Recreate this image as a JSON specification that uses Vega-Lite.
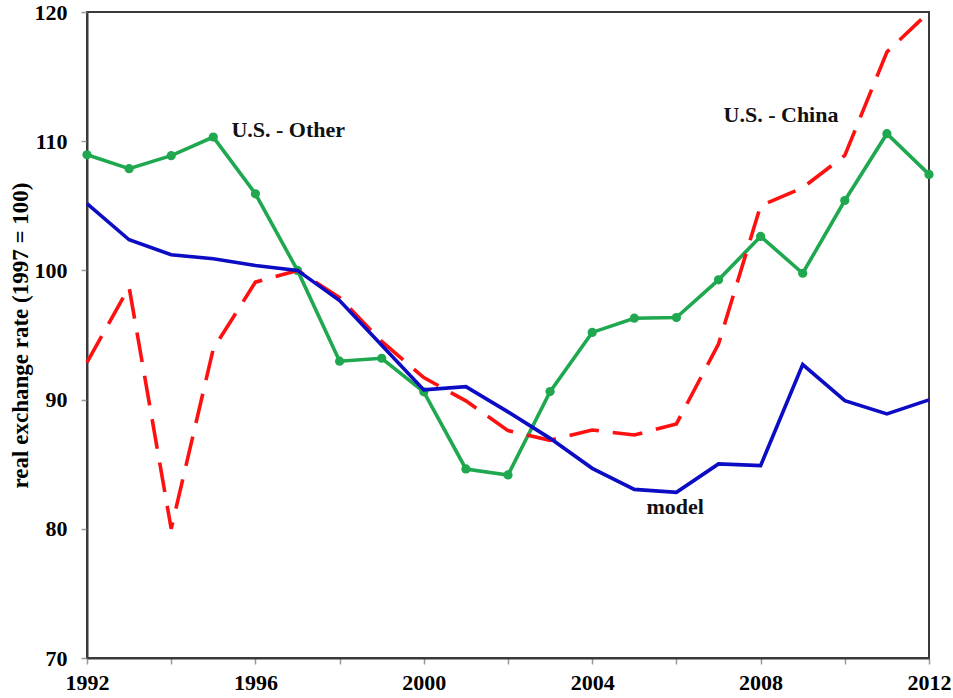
{
  "$schema": "https://vega.github.io/schema/vega-lite/v6.json",
  "width": 842,
  "height": 646,
  "autosize": "none",
  "padding": {"left": 87, "top": 12, "right": 24, "bottom": 40},
  "background": "white",
  "config": {
    "view": {"stroke": "#3a3a3a", "strokeWidth": 2},
    "font": "Liberation Serif"
  },
  "datasets": {
    "series": [
      {"year": 1992, "value": 108.95, "series": "U.S. - Other"},
      {"year": 1993, "value": 107.87, "series": "U.S. - Other"},
      {"year": 1994, "value": 108.88, "series": "U.S. - Other"},
      {"year": 1995, "value": 110.32, "series": "U.S. - Other"},
      {"year": 1996, "value": 105.93, "series": "U.S. - Other"},
      {"year": 1997, "value": 100.0, "series": "U.S. - Other"},
      {"year": 1998, "value": 92.97, "series": "U.S. - Other"},
      {"year": 1999, "value": 93.2, "series": "U.S. - Other"},
      {"year": 2000, "value": 90.6, "series": "U.S. - Other"},
      {"year": 2001, "value": 84.63, "series": "U.S. - Other"},
      {"year": 2002, "value": 84.17, "series": "U.S. - Other"},
      {"year": 2003, "value": 90.62, "series": "U.S. - Other"},
      {"year": 2004, "value": 95.2, "series": "U.S. - Other"},
      {"year": 2005, "value": 96.3, "series": "U.S. - Other"},
      {"year": 2006, "value": 96.35, "series": "U.S. - Other"},
      {"year": 2007, "value": 99.27, "series": "U.S. - Other"},
      {"year": 2008, "value": 102.63, "series": "U.S. - Other"},
      {"year": 2009, "value": 99.78, "series": "U.S. - Other"},
      {"year": 2010, "value": 105.41, "series": "U.S. - Other"},
      {"year": 2011, "value": 110.58, "series": "U.S. - Other"},
      {"year": 2012, "value": 107.43, "series": "U.S. - Other"},
      {"year": 1992, "value": 92.89, "series": "U.S. - China"},
      {"year": 1993, "value": 98.7, "series": "U.S. - China"},
      {"year": 1994, "value": 80.0, "series": "U.S. - China"},
      {"year": 1995, "value": 93.93, "series": "U.S. - China"},
      {"year": 1996, "value": 99.09, "series": "U.S. - China"},
      {"year": 1997, "value": 100.0, "series": "U.S. - China"},
      {"year": 1998, "value": 97.9, "series": "U.S. - China"},
      {"year": 1999, "value": 94.5, "series": "U.S. - China"},
      {"year": 2000, "value": 91.7, "series": "U.S. - China"},
      {"year": 2001, "value": 89.9, "series": "U.S. - China"},
      {"year": 2002, "value": 87.6, "series": "U.S. - China"},
      {"year": 2003, "value": 86.85, "series": "U.S. - China"},
      {"year": 2004, "value": 87.65, "series": "U.S. - China"},
      {"year": 2005, "value": 87.26, "series": "U.S. - China"},
      {"year": 2006, "value": 88.12, "series": "U.S. - China"},
      {"year": 2007, "value": 94.3, "series": "U.S. - China"},
      {"year": 2008, "value": 105.0, "series": "U.S. - China"},
      {"year": 2009, "value": 106.4, "series": "U.S. - China"},
      {"year": 2010, "value": 108.9, "series": "U.S. - China"},
      {"year": 2011, "value": 116.9, "series": "U.S. - China"},
      {"year": 2012, "value": 120.0, "series": "U.S. - China"},
      {"year": 1992, "value": 105.16, "series": "model"},
      {"year": 1993, "value": 102.37, "series": "model"},
      {"year": 1994, "value": 101.21, "series": "model"},
      {"year": 1995, "value": 100.9, "series": "model"},
      {"year": 1996, "value": 100.38, "series": "model"},
      {"year": 1997, "value": 100.0, "series": "model"},
      {"year": 1998, "value": 97.67, "series": "model"},
      {"year": 1999, "value": 94.2, "series": "model"},
      {"year": 2000, "value": 90.75, "series": "model"},
      {"year": 2001, "value": 91.0, "series": "model"},
      {"year": 2002, "value": 89.05, "series": "model"},
      {"year": 2003, "value": 87.0, "series": "model"},
      {"year": 2004, "value": 84.68, "series": "model"},
      {"year": 2005, "value": 83.05, "series": "model"},
      {"year": 2006, "value": 82.82, "series": "model"},
      {"year": 2007, "value": 85.02, "series": "model"},
      {"year": 2008, "value": 84.89, "series": "model"},
      {"year": 2009, "value": 92.71, "series": "model"},
      {"year": 2010, "value": 89.92, "series": "model"},
      {"year": 2011, "value": 88.89, "series": "model"},
      {"year": 2012, "value": 89.98, "series": "model"}
    ],
    "labels": [
      {"year": 1995.43, "value": 110.9, "text": "U.S. - Other"},
      {"year": 2007.12, "value": 112.0, "text": "U.S. - China"},
      {"year": 2005.29, "value": 81.65, "text": "model"}
    ]
  },
  "encoding": {
    "x": {
      "field": "year",
      "type": "quantitative",
      "scale": {"domain": [1992, 2012], "nice": false, "zero": false},
      "axis": {
        "title": null,
        "values": [1992, 1994, 1996, 1998, 2000, 2002, 2004, 2006, 2008, 2010, 2012],
        "labelExpr": "datum.value % 4 == 0 ? datum.value : ''",
        "grid": false,
        "domainColor": "#3a3a3a",
        "domainWidth": 2,
        "tickColor": "#9a9a9a",
        "tickWidth": 1.5,
        "tickSize": 6,
        "labelPadding": 8,
        "labelFont": "Liberation Serif",
        "labelFontWeight": "bold",
        "labelFontSize": 22,
        "labelColor": "#000000",
        "labelFlush": false,
        "labelOverlap": false
      }
    },
    "y": {
      "field": "value",
      "type": "quantitative",
      "scale": {"domain": [70, 120], "nice": false, "zero": false},
      "axis": {
        "title": "real exchange rate (1997 = 100)",
        "values": [70, 80, 90, 100, 110, 120],
        "grid": false,
        "domainColor": "#3a3a3a",
        "domainWidth": 2,
        "tickColor": "#9a9a9a",
        "tickWidth": 1.5,
        "tickSize": 6,
        "labelPadding": 14,
        "labelFont": "Liberation Serif",
        "labelFontWeight": "bold",
        "labelFontSize": 22,
        "labelColor": "#000000",
        "labelFlush": false,
        "labelOverlap": false,
        "titleFont": "Liberation Serif",
        "titleFontWeight": "bold",
        "titleFontSize": 23,
        "titleColor": "#000000",
        "titleAngle": -90,
        "titleAlign": "center",
        "titleBaseline": "middle",
        "titleX": -67,
        "titleY": 323
      }
    }
  },
  "layer": [
    {
      "data": {"name": "series"},
      "transform": [{"filter": "datum.series == 'U.S. - Other'"}],
      "mark": {"type": "line", "color": "#1fa84f", "strokeWidth": 3.6},
      "encoding": {}
    },
    {
      "data": {"name": "series"},
      "transform": [{"filter": "datum.series == 'U.S. - Other'"}],
      "mark": {"type": "point", "filled": true, "color": "#1fa84f", "size": 85, "opacity": 1},
      "encoding": {}
    },
    {
      "data": {"name": "series"},
      "transform": [{"filter": "datum.series == 'U.S. - China'"}],
      "mark": {"type": "line", "color": "#ff1010", "strokeWidth": 3.6, "strokeDash": [30, 14]},
      "encoding": {}
    },
    {
      "data": {"name": "series"},
      "transform": [{"filter": "datum.series == 'model'"}],
      "mark": {"type": "line", "color": "#0c0cc4", "strokeWidth": 3.6},
      "encoding": {}
    },
    {
      "data": {"name": "labels"},
      "mark": {"type": "text", "align": "left", "baseline": "middle", "font": "Liberation Serif", "fontWeight": "bold", "fontSize": 22, "color": "#111111"},
      "encoding": {"text": {"field": "text"}}
    }
  ]
}
